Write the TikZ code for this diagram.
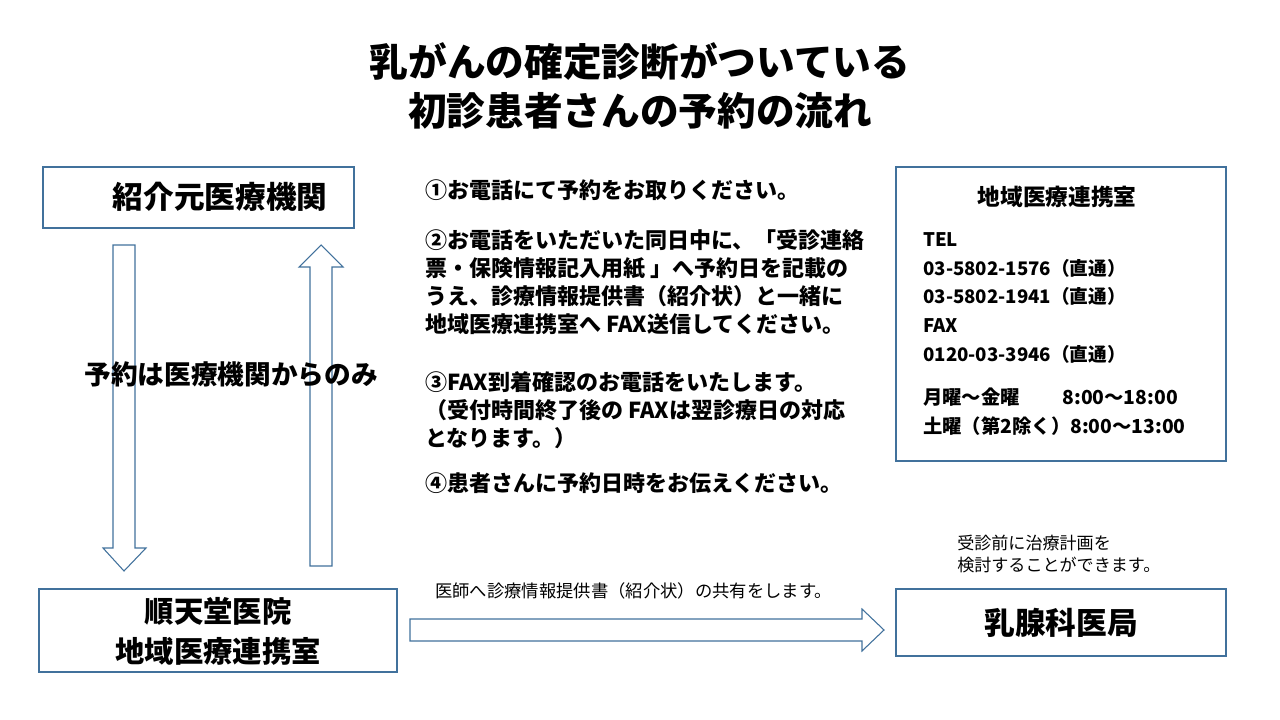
\documentclass[tikz,border=0pt]{standalone}
\usepackage{fontspec}
\setmainfont{Noto Sans CJK JP}
\definecolor{bl}{HTML}{41719C}
\begin{document}
\begin{tikzpicture}[x=0.75pt,y=-0.75pt,
  box/.style={draw=bl,line width=0.8pt},
  arr/.style={draw=bl,line width=0.8pt,fill=white},
  t/.style={anchor=west,inner sep=0pt,font=\fontsize{16.5}{18}\selectfont\bfseries,align=left}]
\useasboundingbox (0,0) rectangle (1280,720);
\node[font=\fontsize{29}{37}\selectfont\bfseries,align=center] (title) at (640,86) {乳がんの確定診断がついている\\初診患者さんの予約の流れ};
\draw[box] (43,167) rectangle (354,228);
\node[font=\fontsize{23}{26}\selectfont\bfseries] (src) at (220,197) {紹介元医療機関};
\draw[box] (39,589) rectangle (397,672);
\node[font=\fontsize{22}{30}\selectfont\bfseries,align=center] (jt) at (218,631) {順天堂医院\\地域医療連携室};
\draw[box] (896,589) rectangle (1226,656);
\node[font=\fontsize{23}{26}\selectfont\bfseries] (ny) at (1061,623) {乳腺科医局};
\draw[box] (896,167) rectangle (1226,461);
\node[font=\fontsize{17}{20}\selectfont\bfseries] (ch) at (1057,197) {地域医療連携室};
\node[t,font=\fontsize{14}{21.5}\selectfont\bfseries] (tel) at (923,298) {TEL\\03-5802-1576（直通）\\03-5802-1941（直通）\\FAX\\0120-03-3946（直通）};
\node[t,font=\fontsize{14.5}{21.5}\selectfont\bfseries] (hr) at (923,412) {月曜～金曜\hspace{2.2em}8:00～18:00\\土曜（第2除く）8:00～13:00};
% down arrow
\draw[arr] (113,245) -- (135,245) -- (135,548) -- (146,548) -- (124,571) -- (103,548) -- (113,548) -- cycle;
% up arrow
\draw[arr] (310,566) -- (332,566) -- (332,267) -- (343,267) -- (321,245) -- (299,267) -- (310,267) -- cycle;
\node[font=\fontsize{20}{24}\selectfont\bfseries] (yk) at (231,374) {予約は医療機関からのみ};
% horizontal arrow
\draw[arr] (410,619) -- (862,619) -- (862,609) -- (884,630) -- (862,651) -- (862,641) -- (410,641) -- cycle;
\node[anchor=west,inner sep=0pt,font=\fontsize{13}{16}\selectfont] (lab) at (435,591) {医師へ診療情報提供書（紹介状）の共有をします。};
\node[anchor=west,inner sep=0pt,font=\fontsize{12.8}{16.5}\selectfont,align=left] (lab2) at (957,554) {受診前に治療計画を\\検討することができます。};
\node[t] (s1) at (425,190) {①お電話にて予約をお取りください。};
\node[t,font=\fontsize{16.5}{21}\selectfont\bfseries] (s2) at (425,282) {②お電話をいただいた同日中に、「受診連絡\\票・保険情報記入用紙 」へ予約日を記載の\\うえ、診療情報提供書（紹介状）と一緒に\\地域医療連携室へ FAX送信してください。};
\node[t,font=\fontsize{16.5}{21}\selectfont\bfseries] (s3) at (425,410) {③FAX到着確認のお電話をいたします。\\（受付時間終了後の FAXは翌診療日の対応\\となります。）};
\node[t] (s4) at (425,483) {④患者さんに予約日時をお伝えください。};
\end{tikzpicture}
\end{document}
